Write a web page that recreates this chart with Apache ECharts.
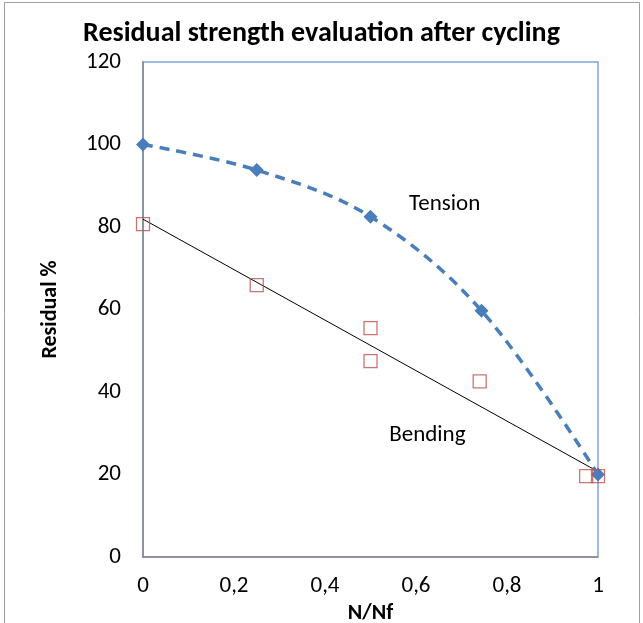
<!DOCTYPE html>
<html><head><meta charset="utf-8">
<script src="https://cdn.jsdelivr.net/npm/echarts@6/dist/echarts.min.js"></script>
<style>html,body{margin:0;padding:0;background:#fff}#c{width:643px;height:623px}</style>
</head><body><div id="c"></div>
<script>
var tensionX = [0, 0.25, 0.5, 0.744, 1];
var tensionY = [100, 93.8, 82.5, 59.7, 20];
var bendingX = [0, 0.25, 0.5, 0.5, 0.74, 0.974, 1];
var bendingY = [80.7, 65.9, 55.5, 47.5, 42.6, 19.6, 19.6];
var trendX = [0, 1];
var trendY = [81.9, 20.7];
var labels = [{name:'Tension', x:0.663, y:85.6}, {name:'Bending', x:0.625, y:29.6}];
var xTicks = {0:'0', 0.2:'0,2', 0.4:'0,4', 0.6:'0,6', 0.8:'0,8', 1:'1'};

var font = 'Carlito, "Liberation Sans Narrow", "Open Sans", sans-serif';
function zip(a,b){return a.map(function(v,i){return [v,b[i]];});}
var chart = echarts.init(document.getElementById('c'), null, {renderer:'canvas'});
chart.setOption({
  animation:false,
  backgroundColor:'#fff',
  title:{text:'Residual strength evaluation after cycling', left:'center', top:15,
    textStyle:{fontFamily:font, fontSize:28, fontWeight:'bold', color:'#000'}},
  graphic:[{type:'rect', shape:{x:4.5,y:2.5,width:635,height:640}, style:{fill:'none', stroke:'#a0a0a0', lineWidth:1}, silent:true}],
  grid:{left:143, top:62, right:45, bottom:66, show:true, borderColor:'#7fa6d6', borderWidth:1.5, containLabel:false, outerBoundsMode:'none'},
  xAxis:{type:'value', min:0, max:1, interval:0.2, name:'N/Nf', nameLocation:'middle', nameGap:42,
    nameTextStyle:{fontFamily:font, fontSize:22, fontWeight:'bold', color:'#000', verticalAlign:'top'},
    axisLine:{show:true, lineStyle:{color:'#868686', width:1.5}}, axisTick:{show:false}, splitLine:{show:false},
    axisLabel:{fontFamily:font, fontSize:23, color:'#000', margin:18, formatter:function(v){return xTicks[Math.round(v*10)/10];}}},
  yAxis:{type:'value', min:0, max:120, interval:20, name:'Residual %', nameLocation:'middle', nameGap:82, nameRotate:90,
    nameTextStyle:{fontFamily:font, fontSize:22, fontWeight:'bold', color:'#000', verticalAlign:'bottom'},
    axisLine:{show:true, lineStyle:{color:'#868686', width:1.5}}, axisTick:{show:false}, splitLine:{show:false},
    axisLabel:{fontFamily:font, fontSize:23, color:'#000', margin:22}},
  series:[
    {type:'line', data:zip(trendX,trendY), symbol:'none', lineStyle:{color:'#000', width:1}, z:2,
     markPoint:{symbol:'circle', symbolSize:0, data:labels.map(function(l){return {coord:[l.x,l.y], name:l.name, value:l.name};}),
       label:{show:true, formatter:'{b}', fontFamily:font, fontSize:23, color:'#000'}}},
    {type:'line', data:zip(tensionX,tensionY), smooth:0.35, symbol:'diamond', symbolSize:14,
     itemStyle:{color:'#4a7ebb'}, lineStyle:{color:'#4a7ebb', width:3.5, type:[10,7]}, z:3},
    {type:'scatter', data:zip(bendingX,bendingY), symbol:'rect', symbolSize:13,
     itemStyle:{color:'rgba(0,0,0,0)', borderColor:'#c0504d', borderWidth:1.3}, z:4}
  ]
});
</script></body></html>
